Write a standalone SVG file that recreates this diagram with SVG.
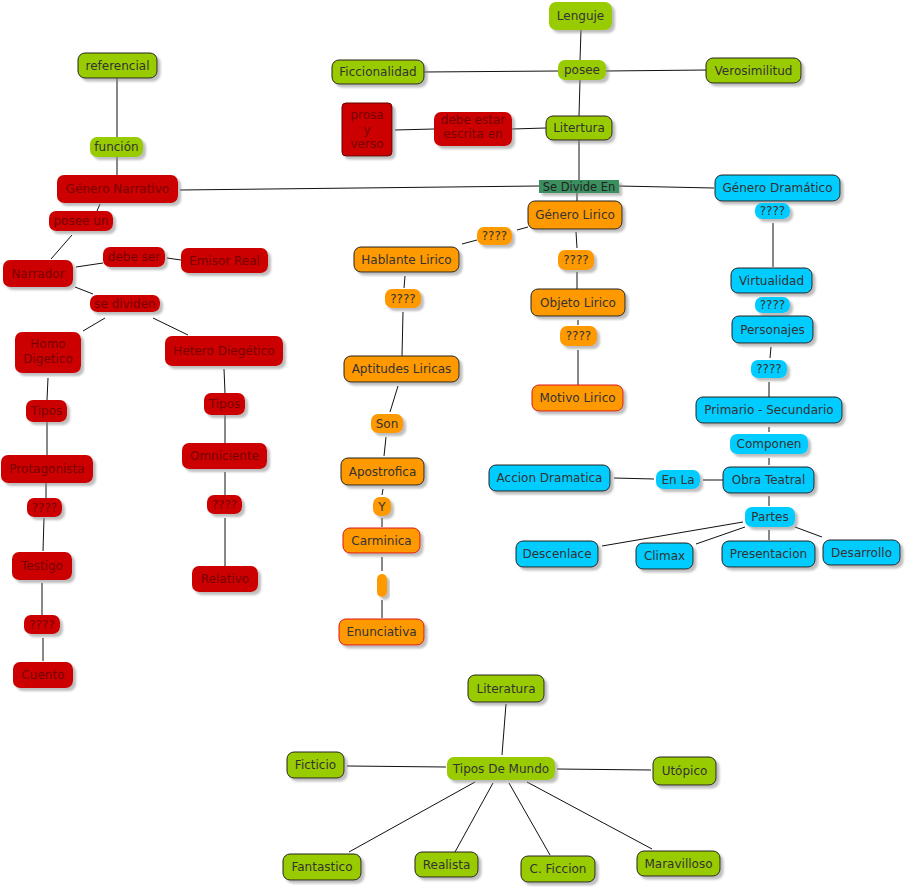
<svg xmlns="http://www.w3.org/2000/svg" width="906" height="887" viewBox="0 0 906 887">
<defs>
<filter id="sh" x="-20%" y="-30%" width="150%" height="180%">
<feDropShadow dx="3" dy="3" stdDeviation="1.2" flood-color="#888" flood-opacity="0.55"/>
</filter>
</defs>
<style>
text{font-family:"DejaVu Sans",Verdana,sans-serif;font-size:12px;text-anchor:middle;fill:#333}
rect{filter:url(#sh);rx:7px}
.c rect{fill:#99cc00;stroke:#222;stroke-width:1}
.l rect{fill:#99cc00}
.r rect{fill:#cc0000}
.r text{fill:#770000}
.rb rect{fill:#cc0000;stroke:#660000;stroke-width:1}
.rb text{fill:#770000}
.o rect{fill:#ff9900;stroke:#222;stroke-width:1}
.or rect{fill:#ff9900;stroke:#e01010;stroke-width:1}
.ol rect{fill:#ff9900}
.b rect{fill:#00ccff;stroke:#222;stroke-width:1}
.bl rect{fill:#00ccff}
.sd rect{fill:#3a8f5f;rx:0}
.sd text{font-size:11.5px;fill:#222}
#edges line{stroke:#111;stroke-width:1}
</style>
<g id="edges">
<line x1="581" y1="30" x2="580" y2="60"/>
<line x1="424" y1="72" x2="558" y2="71"/>
<line x1="606" y1="71" x2="706" y2="70"/>
<line x1="580" y1="80" x2="579" y2="116"/>
<line x1="546" y1="128" x2="512" y2="129"/>
<line x1="434" y1="129" x2="395" y2="130"/>
<line x1="579" y1="140" x2="579" y2="180"/>
<line x1="539" y1="186" x2="180" y2="190"/>
<line x1="619" y1="186" x2="714" y2="188"/>
<line x1="577" y1="193" x2="577" y2="201"/>
<line x1="117" y1="78" x2="117" y2="137"/>
<line x1="117" y1="157" x2="117" y2="175"/>
<line x1="100" y1="204" x2="97" y2="211"/>
<line x1="72" y1="235" x2="51" y2="259"/>
<line x1="76" y1="267" x2="103" y2="263"/>
<line x1="167" y1="258" x2="181" y2="260"/>
<line x1="75" y1="287" x2="93" y2="294"/>
<line x1="105" y1="318" x2="83" y2="331"/>
<line x1="153" y1="318" x2="188" y2="335"/>
<line x1="48" y1="378" x2="47" y2="400"/>
<line x1="47" y1="422" x2="47" y2="455"/>
<line x1="224" y1="369" x2="225" y2="393"/>
<line x1="225" y1="415" x2="225" y2="443"/>
<line x1="46" y1="483" x2="46" y2="498"/>
<line x1="44" y1="518" x2="43" y2="551"/>
<line x1="42" y1="583" x2="42" y2="615"/>
<line x1="43" y1="638" x2="43" y2="661"/>
<line x1="225" y1="472" x2="225" y2="495"/>
<line x1="225" y1="518" x2="225" y2="566"/>
<line x1="528" y1="227" x2="517" y2="230"/>
<line x1="477" y1="240" x2="462" y2="244"/>
<line x1="576" y1="232" x2="577" y2="248"/>
<line x1="577" y1="272" x2="577" y2="289"/>
<line x1="578" y1="320" x2="578" y2="325"/>
<line x1="578" y1="350" x2="578" y2="385"/>
<line x1="405" y1="276" x2="404" y2="288"/>
<line x1="403" y1="312" x2="402" y2="356"/>
<line x1="398" y1="386" x2="390" y2="412"/>
<line x1="386" y1="437" x2="384" y2="456"/>
<line x1="383" y1="489" x2="382" y2="495"/>
<line x1="382" y1="518" x2="382" y2="527"/>
<line x1="382" y1="557" x2="382" y2="571"/>
<line x1="382" y1="600" x2="382" y2="618"/>
<line x1="773" y1="223" x2="773" y2="267"/>
<line x1="771" y1="347" x2="770" y2="358"/>
<line x1="769" y1="382" x2="769" y2="397"/>
<line x1="769" y1="427" x2="769" y2="432"/>
<line x1="769" y1="458" x2="769" y2="465"/>
<line x1="723" y1="480" x2="703" y2="480"/>
<line x1="654" y1="479" x2="614" y2="478"/>
<line x1="769" y1="496" x2="769" y2="506"/>
<line x1="743" y1="522" x2="602" y2="546"/>
<line x1="745" y1="527" x2="696" y2="544"/>
<line x1="769" y1="530" x2="769" y2="540"/>
<line x1="795" y1="527" x2="822" y2="537"/>
<line x1="506" y1="704" x2="502" y2="755"/>
<line x1="446" y1="767" x2="347" y2="766"/>
<line x1="557" y1="769" x2="651" y2="770"/>
<line x1="475" y1="782" x2="349" y2="852"/>
<line x1="493" y1="783" x2="455" y2="852"/>
<line x1="509" y1="783" x2="550" y2="855"/>
<line x1="527" y1="782" x2="652" y2="849"/>
</g>
<g id="lenguje" class="l"><rect x="549" y="2" width="63" height="28"/><text x="580.5" y="20">Lenguje</text></g>
<g id="posee" class="l"><rect x="558" y="60" width="48" height="20"/><text x="582" y="74">posee</text></g>
<g id="ficcionalidad" class="c"><rect x="332" y="60" width="92" height="24"/><text x="378" y="76">Ficcionalidad</text></g>
<g id="verosimilitud" class="c"><rect x="706" y="58" width="95" height="25"/><text x="753.5" y="74.5">Verosimilitud</text></g>
<g id="litertura" class="c"><rect x="546" y="116" width="66" height="24"/><text x="579" y="132">Litertura</text></g>
<g id="debe-estar" class="r"><rect x="434" y="112" width="78" height="34"/><text x="473" y="124">debe estar</text><text x="473" y="138">escrita en</text></g>
<g id="prosa-verso" class="rb"><rect x="342" y="103" width="50" height="53" rx="4" style="rx:4px"/><text x="367" y="119">prosa</text><text x="367" y="134">y</text><text x="367" y="148">verso</text></g>
<g id="se-divide" class="sd"><rect x="539" y="180" width="80" height="13"/><text x="579" y="190.5">Se Divide En</text></g>
<g id="genero-narrativo" class="r"><rect x="57" y="175" width="121" height="28"/><text x="117.5" y="193">Género Narrativo</text></g>
<g id="funcion" class="l"><rect x="90" y="137" width="53" height="20"/><text x="116.5" y="151">función</text></g>
<g id="referencial" class="c"><rect x="78" y="53" width="79" height="25"/><text x="117.5" y="69.5">referencial</text></g>
<g id="posee-un" class="r"><rect x="49" y="211" width="64" height="20"/><text x="81" y="225">posee un</text></g>
<g id="narrador" class="r"><rect x="3" y="260" width="70" height="27"/><text x="38" y="277.5">Narrador</text></g>
<g id="debe-ser" class="r"><rect x="103" y="247" width="62" height="20"/><text x="134" y="261">debe ser</text></g>
<g id="emisor-real" class="r"><rect x="181" y="248" width="87" height="25"/><text x="224.5" y="264.5">Emisor Real</text></g>
<g id="se-dividen" class="r"><rect x="90" y="295" width="70" height="17"/><text x="125" y="307.5">se dividen</text></g>
<g id="homo" class="r"><rect x="15" y="332" width="66" height="41"/><text x="48" y="348">Homo</text><text x="48" y="363">Digetico</text></g>
<g id="hetero" class="r"><rect x="165" y="336" width="118" height="30"/><text x="224" y="355">Hetero Diegético</text></g>
<g id="tipos-l" class="r"><rect x="26" y="400" width="41" height="22"/><text x="46.5" y="415">Tipos</text></g>
<g id="tipos-r" class="r"><rect x="204" y="393" width="41" height="22"/><text x="224.5" y="408">Tipos</text></g>
<g id="protagonista" class="r"><rect x="1" y="455" width="92" height="28"/><text x="47" y="473">Protagonista</text></g>
<g id="omniciente" class="r"><rect x="182" y="443" width="85" height="26"/><text x="224.5" y="460">Omniciente</text></g>
<g id="q-l1" class="r"><rect x="27" y="498" width="35" height="19"/><text x="44.5" y="511.5">????</text></g>
<g id="testigo" class="r"><rect x="12" y="552" width="60" height="28"/><text x="42" y="570">Testigo</text></g>
<g id="q-l2" class="r"><rect x="24" y="615" width="36" height="19"/><text x="42" y="628.5">????</text></g>
<g id="cuento" class="r"><rect x="13" y="662" width="60" height="26"/><text x="43" y="679">Cuento</text></g>
<g id="q-r" class="r"><rect x="207" y="495" width="35" height="19"/><text x="224.5" y="508.5">????</text></g>
<g id="relativo" class="r"><rect x="192" y="566" width="66" height="26"/><text x="225" y="583">Relativo</text></g>
<g id="genero-lirico" class="o"><rect x="528" y="201" width="94" height="28"/><text x="575" y="219">Género Lirico</text></g>
<g id="q-a" class="ol"><rect x="477" y="227" width="35" height="18"/><text x="494.5" y="240">????</text></g>
<g id="hablante" class="o"><rect x="354" y="247" width="105" height="25"/><text x="406.5" y="263.5">Hablante Lirico</text></g>
<g id="q-b" class="ol"><rect x="558" y="250" width="36" height="20"/><text x="576" y="264">????</text></g>
<g id="objeto" class="o"><rect x="531" y="289" width="94" height="27"/><text x="578" y="306.5">Objeto Lirico</text></g>
<g id="q-c" class="ol"><rect x="560" y="326" width="37" height="20"/><text x="578.5" y="340">????</text></g>
<g id="motivo" class="or"><rect x="532" y="385" width="91" height="26"/><text x="577.5" y="402">Motivo Lirico</text></g>
<g id="q-d" class="ol"><rect x="385" y="289" width="36" height="19"/><text x="403" y="302.5">????</text></g>
<g id="aptitudes" class="o"><rect x="344" y="356" width="115" height="26"/><text x="401.5" y="373">Aptitudes Liricas</text></g>
<g id="son" class="ol"><rect x="371" y="414" width="32" height="19"/><text x="387" y="427.5">Son</text></g>
<g id="apostrofica" class="o"><rect x="341" y="458" width="83" height="27"/><text x="382.5" y="475.5">Apostrofica</text></g>
<g id="y" class="ol"><rect x="373" y="497" width="18" height="19"/><text x="382" y="510.5">Y</text></g>
<g id="carminica" class="or"><rect x="343" y="528" width="77" height="25"/><text x="381.5" y="544.5">Carminica</text></g>
<g id="empty" class="ol"><rect x="377" y="574" width="10" height="23" style="rx:5px"/></g>
<g id="enunciativa" class="or"><rect x="339" y="619" width="85" height="26"/><text x="381.5" y="636">Enunciativa</text></g>
<g id="genero-dramatico" class="b"><rect x="715" y="175" width="125" height="26"/><text x="777.5" y="192">Género Dramático</text></g>
<g id="q-e" class="bl"><rect x="755" y="203" width="35" height="16"/><text x="772.5" y="215">????</text></g>
<g id="virtualidad" class="b"><rect x="731" y="268" width="81" height="25"/><text x="771.5" y="284.5">Virtualidad</text></g>
<g id="q-f" class="bl"><rect x="755" y="297" width="35" height="16"/><text x="772.5" y="309">????</text></g>
<g id="personajes" class="b"><rect x="732" y="316" width="81" height="27"/><text x="772.5" y="333.5">Personajes</text></g>
<g id="q-g" class="bl"><rect x="751" y="360" width="36" height="18"/><text x="769" y="373">????</text></g>
<g id="primario" class="b"><rect x="696" y="397" width="146" height="26"/><text x="769" y="414">Primario - Secundario</text></g>
<g id="componen" class="bl"><rect x="730" y="434" width="78" height="20"/><text x="769" y="448">Componen</text></g>
<g id="obra" class="b"><rect x="723" y="467" width="91" height="26"/><text x="768.5" y="484">Obra Teatral</text></g>
<g id="en-la" class="bl"><rect x="656" y="470" width="44" height="19"/><text x="678" y="483.5">En La</text></g>
<g id="accion" class="b"><rect x="489" y="465" width="121" height="26"/><text x="549.5" y="482">Accion Dramatica</text></g>
<g id="partes" class="bl"><rect x="745" y="507" width="50" height="20"/><text x="770" y="521">Partes</text></g>
<g id="descenlace" class="b"><rect x="516" y="541" width="82" height="26"/><text x="557" y="558">Descenlace</text></g>
<g id="climax" class="b"><rect x="636" y="543" width="57" height="26"/><text x="664.5" y="560">Climax</text></g>
<g id="presentacion" class="b"><rect x="722" y="541" width="93" height="26"/><text x="768.5" y="558">Presentacion</text></g>
<g id="desarrollo" class="b"><rect x="823" y="540" width="77" height="25"/><text x="861.5" y="556.5">Desarrollo</text></g>
<g id="literatura" class="c"><rect x="468" y="675" width="76" height="27"/><text x="506" y="692.5">Literatura</text></g>
<g id="tipos-mundo" class="l"><rect x="447" y="757" width="108" height="23"/><text x="501" y="772.5">Tipos De Mundo</text></g>
<g id="ficticio" class="c"><rect x="287" y="752" width="57" height="26"/><text x="315.5" y="769">Ficticio</text></g>
<g id="utopico" class="c"><rect x="653" y="757" width="63" height="28"/><text x="684.5" y="775">Utópico</text></g>
<g id="fantastico" class="c"><rect x="283" y="854" width="78" height="26"/><text x="322" y="871">Fantastico</text></g>
<g id="realista" class="c"><rect x="415" y="852" width="63" height="25"/><text x="446.5" y="868.5">Realista</text></g>
<g id="c-ficcion" class="c"><rect x="521" y="856" width="74" height="26"/><text x="558" y="873">C. Ficcion</text></g>
<g id="maravilloso" class="c"><rect x="637" y="851" width="83" height="25"/><text x="678.5" y="867.5">Maravilloso</text></g>
</svg>
